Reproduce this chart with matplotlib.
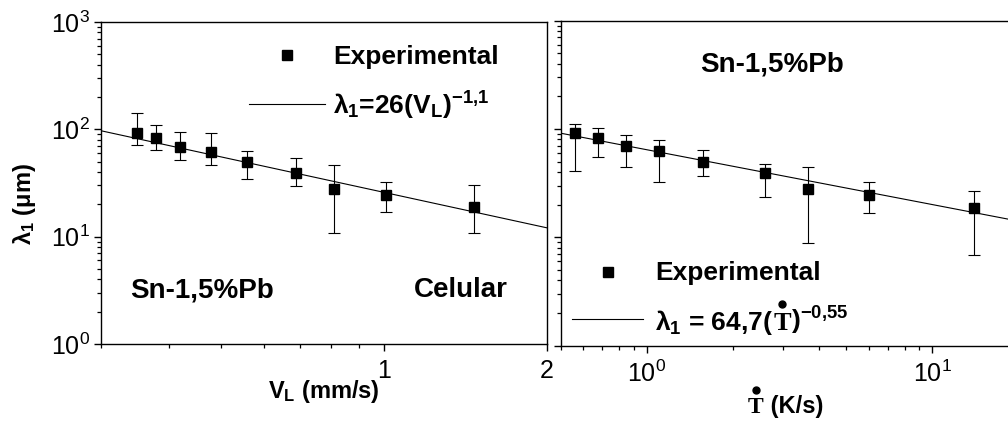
import numpy as np
import matplotlib
matplotlib.use('Agg')
import matplotlib.pyplot as plt
from matplotlib.lines import Line2D
from matplotlib.ticker import FixedLocator, NullFormatter, LogLocator, LogFormatterMathtext, FixedFormatter

plt.rcParams['font.family'] = ['Liberation Sans', 'DejaVu Sans']
plt.rcParams['mathtext.fontset'] = 'custom'
plt.rcParams['mathtext.rm'] = 'Liberation Sans'
plt.rcParams['mathtext.default'] = 'regular'

# Data
v_l = [0.35, 0.379, 0.42, 0.479, 0.559, 0.689, 0.81, 1.01, 1.47]          # mm/s
t_dot = [0.56, 0.678, 0.847, 1.107, 1.578, 2.586, 3.675, 6.005, 13.95]    # K/s
lam1 = [92, 83, 69, 62, 49.5, 38.8, 27.7, 24.5, 18.7]                       # um

lam_v_top = [142, 109, 94, 92.7, 62.6, 53.5, 46.7, 32.4, 30.6]
lam_v_bot = [72.2, 64, 51.6, 46.7, 34.8, 29.8, 10.9, 16.9, 10.9]
lam_t_top = [110.8, 101.7, 87.5, 78.6, 64.4, 47.4, 44.7, 32.4, 26.6]
lam_t_bot = [40.5, 54.6, 44.7, 32.4, 36.4, 23.7, 8.77, 16.8, 6.83]

# fitted power laws (straight in log-log), end points
fit_v = [0.3, 2.0]
fit_lam_v = [97.0, 12.1]
fit_t = [0.5, 20.0]
fit_lam_t = [91.4, 14.1]

W, H = 1008, 423
fig = plt.figure(figsize=(W / 100, H / 100), dpi=100)


def fx(x):
    return x / W


def fy(y):
    return 1 - y / H


def err(y, top, bot):
    y = np.array(y)
    return [y - np.array(bot), np.array(top) - y]


ax1 = fig.add_axes([fx(101), fy(344), fx(546.7 - 101), (344 - 22) / H])
ax2 = fig.add_axes([fx(560.7), fy(345.5), fx(1018.3 - 560.7), (345.5 - 20.7) / H])

for ax in (ax1, ax2):
    ax.set_xscale('log')
    ax.set_yscale('log')
    ax.set_ylim(1, 1000)
    for s in ax.spines.values():
        s.set_linewidth(1.0)
    ax.tick_params(which='major', direction='out', length=5, width=1.0, labelsize=18, pad=6)
    ax.tick_params(which='minor', direction='out', length=3, width=0.9)
    ax.tick_params(top=False, right=False, which='both')
    ax.yaxis.set_major_locator(LogLocator(base=10))
    ax.yaxis.set_minor_locator(LogLocator(base=10, subs=np.arange(2, 10)))
    ax.yaxis.set_minor_formatter(NullFormatter())

# left panel
ax1.set_xlim(0.3, 2)
ax1.xaxis.set_major_locator(FixedLocator([1, 2]))
ax1.xaxis.set_major_formatter(FixedFormatter(['1', '2']))
ax1.xaxis.set_minor_locator(FixedLocator([0.3, 0.4, 0.5, 0.6, 0.7, 0.8, 0.9]))
ax1.xaxis.set_minor_formatter(NullFormatter())
ax1.yaxis.set_major_formatter(LogFormatterMathtext())
ax1.tick_params(axis='y', pad=3)
ax1.plot(fit_v, fit_lam_v, color='black', lw=0.8)
ax1.errorbar(v_l, lam1, yerr=err(lam1, lam_v_top, lam_v_bot), fmt='s', color='black',
             ms=6.5, ecolor='black', elinewidth=0.8, capsize=4.5, capthick=0.8)

# right panel
ax2.set_xlim(0.5, 20)
ax2.xaxis.set_major_locator(LogLocator(base=10))
ax2.xaxis.set_major_formatter(LogFormatterMathtext())
ax2.xaxis.set_minor_locator(LogLocator(base=10, subs=np.arange(2, 10)))
ax2.xaxis.set_minor_formatter(NullFormatter())
ax2.yaxis.set_major_formatter(NullFormatter())
ax2.spines['right'].set_visible(False)
ax2.plot(fit_t, fit_lam_t, color='black', lw=0.8)
ax2.errorbar(t_dot, lam1, yerr=err(lam1, lam_t_top, lam_t_bot), fmt='s', color='black',
             ms=6.5, ecolor='black', elinewidth=0.8, capsize=4.5, capthick=0.8)

renderer = fig.canvas.get_renderer()
bold = dict(fontweight='bold', color='black')


def chain(x, y, pieces):
    # put text pieces one after another on a baseline (pixel coords)
    out = []
    for s, kw in pieces:
        t = fig.text(fx(x), fy(y), s, ha='left', va='baseline', **kw)
        bb = t.get_window_extent(renderer)
        out.append(bb)
        x = bb.x1
    return out


def dot_over(bb, base_y, size_px):
    cx = (bb.x0 + bb.x1) / 2
    fig.add_artist(Line2D([fx(cx)], [fy(base_y - 0.98 * size_px)], marker='o', ms=5,
                          color='black', transform=fig.transFigure))


def handle(x0, x1, y, marker=False):
    if marker:
        fig.add_artist(Line2D([fx((x0 + x1) / 2)], [fy(y)], marker='s', ms=6.5, color='black',
                              transform=fig.transFigure))
    else:
        fig.add_artist(Line2D([fx(x0), fx(x1)], [fy(y), fy(y)], lw=0.8, color='black',
                              transform=fig.transFigure))


# left panel texts
handle(249, 325, 55, marker=True)
fig.text(fx(333), fy(64), 'Experimental', fontsize=19, va='baseline', **bold)
handle(249, 325, 104)
fig.text(fx(333), fy(115), 'λ$_1$=26(V$_L$)$^{-1{,}1}$', fontsize=19, va='baseline', **bold)
fig.text(fx(130), fy(297), 'Sn-1,5%Pb', fontsize=20, va='baseline', **bold)
fig.text(fx(414), fy(297), 'Celular', fontsize=20, va='baseline', **bold)
fig.text(fx(324), fy(398), 'V$_L$ (mm/s)', fontsize=17, ha='center', va='baseline', **bold)
fig.text(fx(25), fy(204), 'λ$_1$ (μm)', fontsize=17, rotation=90, ha='center', va='center', **bold)

# right panel texts
fig.text(fx(772), fy(71), 'Sn-1,5%Pb', fontsize=20, ha='center', va='baseline', **bold)
handle(572, 643, 272, marker=True)
fig.text(fx(655), fy(280), 'Experimental', fontsize=19, va='baseline', **bold)
handle(572, 643, 319)
bbs = chain(655, 330, [('λ$_1$ = 64,7(', dict(fontsize=19, **bold)),
                       ('T', dict(fontsize=19, family='Liberation Serif', **bold)),
                       (')$^{-0{,}55}$', dict(fontsize=19, **bold))])
dot_over(bbs[1], 330, 19 * 100 / 72)
bbs = chain(748, 413, [('T', dict(fontsize=17, family='Liberation Serif', **bold)),
                       (' (K/s)', dict(fontsize=17, **bold))])
dot_over(bbs[0], 413, 17 * 100 / 72)

fig.savefig('out.png', dpi=100, facecolor='white')
